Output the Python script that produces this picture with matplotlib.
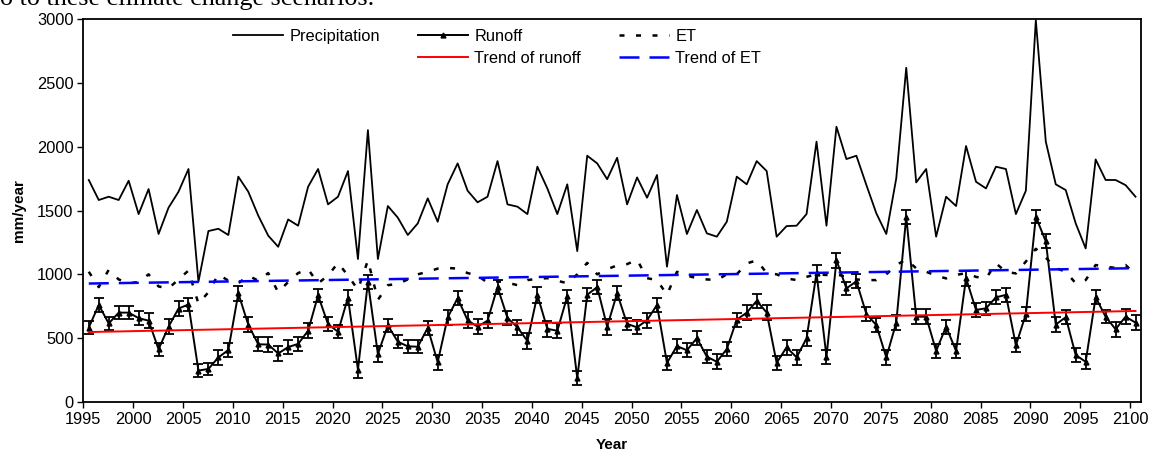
import numpy as np
import matplotlib
matplotlib.use("Agg")
import matplotlib.pyplot as plt
from matplotlib.lines import Line2D

years = np.arange(1995, 2101)

precip = [1739, 1582, 1608, 1582, 1733, 1472, 1668, 1316, 1522, 1647,
          1825, 942, 1339, 1357, 1308, 1765, 1647, 1460, 1303, 1216,
          1430, 1381, 1686, 1825, 1548, 1608, 1809, 1120, 2130, 1120,
          1535, 1444, 1308, 1399, 1595, 1412, 1705, 1869, 1655, 1564,
          1608, 1887, 1548, 1530, 1472, 1843, 1673, 1472, 1705, 1182,
          1929, 1869, 1745, 1913, 1548, 1759, 1600, 1778, 1060, 1621,
          1316, 1504, 1321, 1295, 1412, 1765, 1705, 1887, 1809, 1295,
          1378, 1381, 1472, 2039, 1381, 2156, 1903, 1929, 1700, 1478,
          1316, 1752, 2618, 1720, 1825, 1295, 1608, 1535, 2005, 1725,
          1673, 1843, 1825, 1472, 1655, 2990, 2039, 1705, 1660, 1399,
          1203, 1900, 1739, 1739, 1699, 1608]

runoff = [583, 760, 615, 700, 700, 657, 637, 413, 590, 732,
          764, 246, 259, 349, 407, 851, 605, 452, 450, 380,
          430, 455, 558, 835, 610, 550, 818, 253, 940, 376,
          600, 472, 436, 433, 580, 312, 662, 813, 640, 590,
          637, 900, 659, 585, 478, 838, 573, 558, 828, 187,
          840, 900, 590, 852, 612, 585, 641, 760, 306, 438,
          405, 501, 355, 315, 415, 645, 700, 792, 701, 307,
          428, 350, 498, 1009, 356, 1110, 890, 945, 690, 602,
          349, 622, 1451, 668, 668, 400, 590, 400, 970, 721,
          734, 820, 839, 444, 688, 1451, 1258, 607, 664, 368,
          315, 820, 668, 570, 668, 622]

runoff_err = [52, 52, 52, 52, 52, 52, 59, 52, 60, 59,
              50, 50, 48, 59, 56, 60, 57, 56, 56, 59,
              52, 52, 59, 52, 52, 50, 59, 63, 51, 59,
              50, 52, 52, 52, 55, 59, 56, 55, 63, 60,
              59, 56, 56, 60, 59, 59, 65, 59, 52, 55,
              52, 52, 63, 56, 48, 56, 59, 55, 56, 52,
              56, 55, 52, 59, 52, 55, 59, 52, 59, 54,
              61, 61, 59, 68, 55, 59, 52, 55, 54, 57,
              59, 59, 55, 59, 59, 52, 55, 52, 59, 52,
              52, 56, 52, 55, 54, 52, 55, 61, 56, 52,
              59, 56, 52, 59, 59, 59]

et = [1020, 900, 1035, 960, 930, 940, 1000, 905, 890, 960,
      1030, 770, 860, 1000, 950, 930, 990, 950, 1010, 860,
      940, 1010, 1040, 930, 990, 1090, 990, 880, 1110, 800,
      915, 925, 960, 1000, 1020, 1045, 1050, 1045, 1010, 990,
      935, 945, 935, 915, 955, 965, 970, 950, 930, 1000,
      1090, 1000, 1040, 1070, 1080, 1115, 970, 955, 840, 1020,
      990, 970, 960, 955, 1000, 1000, 1085, 1110, 1010, 1000,
      968, 955, 980, 1000, 995, 1000, 980, 960, 955, 955,
      1000, 1073, 1117, 1047, 1020, 990, 968, 995, 1010, 980,
      968, 1086, 1020, 1007, 1100, 1200, 1130, 1050, 1020, 930,
      955, 1073, 1060, 1050, 1073, 1000]

trend_runoff = [548, 713]
trend_et = [928, 1048]

x_ticks = np.arange(1995, 2101, 5)
y_ticks = np.arange(0, 3001, 500)

# ---------------------------------------------------------------
plt.rcParams['font.family'] = ['Liberation Sans', 'DejaVu Sans']
fig = plt.figure(figsize=(11.51, 4.50), dpi=100)
ax = fig.add_axes([83.3 / 1151, 1 - 402 / 450, (1141 - 83.3) / 1151, (402 - 19) / 450])

xpos = years + 0.55
xtr = [xpos[0], xpos[-1]]

l_p, = ax.plot(xpos, precip, color='black', lw=1.3, zorder=2)
ax.errorbar(xpos, runoff, yerr=runoff_err, fmt='none', ecolor='black',
            elinewidth=1.3, capsize=3.6, capthick=1.3, zorder=3)
l_r, = ax.plot(xpos, runoff, color='black', lw=1.4, marker='^', ms=3.5,
               mfc='black', mec='black', zorder=4)
l_e, = ax.plot(xpos, et, color='black', lw=1.8, dashes=(2.0, 4.6), zorder=5)
l_tr, = ax.plot(xtr, trend_runoff, color='#FF0000', lw=1.4, zorder=6)
l_te, = ax.plot(xtr, trend_et, color='#0000FF', lw=1.8, dashes=(8.0, 4.0), zorder=7)

ax.set_xlim(1995, 2101.1)
ax.set_ylim(0, 3000)
ax.set_xticks(x_ticks)
ax.set_yticks(y_ticks)
ax.tick_params(axis='both', direction='out', length=4, width=1.0,
               labelsize=11.8, colors='black', pad=3)
for s in ax.spines.values():
    s.set_linewidth(1.3)
    s.set_color('black')

ax.set_xlabel('Year', fontsize=11, fontweight='bold', labelpad=8)
ax.set_ylabel('mm/year', fontsize=11, fontweight='bold', labelpad=8)

blank = Line2D([], [], color='none')
handles = [l_p, blank, l_r, l_tr, l_e, l_te]
labels = ['Precipitation', '', 'Runoff', 'Trend of runoff', 'ET', 'Trend of ET']
ax.legend(handles, labels, ncol=3, loc='upper left',
          bbox_to_anchor=(233 / 1151, 1 - 29 / 450), bbox_transform=fig.transFigure,
          frameon=False, fontsize=11.8, handlelength=3.05, handletextpad=0.4,
          columnspacing=2.3, labelspacing=0.42, borderpad=0, borderaxespad=0)

fig.text(0.5 / 1151, 1 - 5 / 450, 'o to these climate change scenarios.',
         family='Liberation Serif', fontsize=18.8, va='baseline', ha='left')

fig.savefig('out.png', dpi=100)
